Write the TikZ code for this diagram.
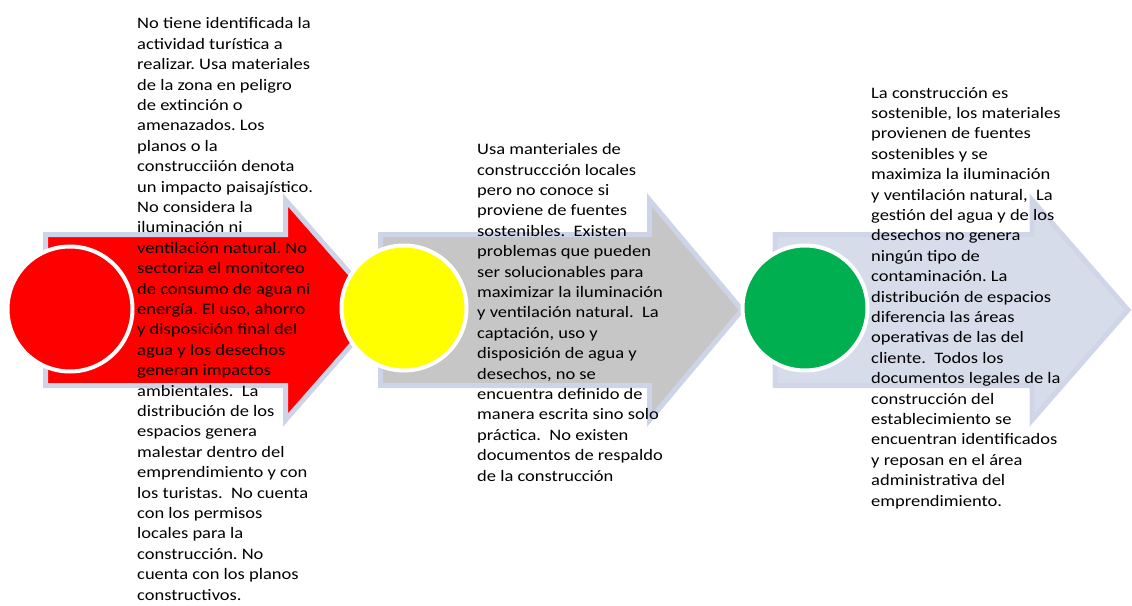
\documentclass[tikz,border=0pt]{standalone}
\usepackage{fontspec}
\setmainfont{Carlito}[FakeStretch=1.155]
\frenchspacing
\definecolor{arrowrim}{RGB}{205,212,232}
\definecolor{arrowred}{RGB}{255,0,0}
\definecolor{arrowgray}{RGB}{198,198,198}
\definecolor{arrowblue}{RGB}{214,220,234}
\definecolor{arrowbluerim}{RGB}{208,214,231}
\definecolor{dotred}{RGB}{255,0,0}
\definecolor{dotyellow}{RGB}{255,255,0}
\definecolor{dotgreen}{RGB}{0,176,80}
\tikzset{
  bigarrow/.style={draw=arrowrim, line width=5pt, line join=miter},
  dot/.style={circle, draw=white, line width=4pt, minimum size=125pt, inner sep=0pt},
  desc/.style={anchor=base west, align=left, inner sep=0pt, text=black,
    font=\fontsize{16}{20.4}\selectfont\frenchspacing},
}
\begin{document}
\begin{tikzpicture}[x=1pt,y=-1pt]
\useasboundingbox (0,0) rectangle (1132,605);
% arrows
\path[bigarrow, fill=arrowred] (45.5,234.5) -- (285.5,234.5) -- (285.5,200) -- (382,310) -- (285.5,420) -- (285.5,385.5) -- (45.5,385.5) -- cycle;
\path[bigarrow, fill=arrowgray] (380.5,234.5) -- (649.5,234.5) -- (649.5,200) -- (742,310) -- (649.5,420) -- (649.5,385.5) -- (380.5,385.5) -- cycle;
\path[bigarrow, draw=arrowbluerim, fill=arrowblue] (775,234.5) -- (1032,234.5) -- (1032,200) -- (1128,310) -- (1032,420) -- (1032,385.5) -- (775,385.5) -- cycle;
% circles
\node[dot, fill=dotred] (c1) at (70,309) {};
\node[dot, fill=dotyellow] (c2) at (404,308) {};
\node[dot, fill=dotgreen] (c3) at (805,308) {};
% texts (anchored at the baseline of the last line)
\node[desc] (t1) at (137,600) {No tiene identificada la\\
actividad turística a\\
realizar. Usa materiales\\
de la zona en peligro\\
de extinción o\\
amenazados. Los\\
planos o la\\
construcciión denota\\
un impacto paisajístico.\\
No considera la\\
iluminación ni\\
ventilación natural. No\\
sectoriza el monitoreo\\
de consumo de agua ni\\
energía. El uso, ahorro\\
y disposición final del\\
agua y los desechos\\
generan impactos\\
ambientales.\ \ La\\
distribución de los\\
espacios genera\\
malestar dentro del\\
emprendimiento y con\\
los turistas.\ \ No cuenta\\
con los permisos\\
locales para la\\
construcción. No\\
cuenta con los planos\\
constructivos.};
\node[desc] (t2) at (477,481) {Usa manteriales de\\
construccción locales\\
pero no conoce si\\
proviene de fuentes\\
sostenibles.\ \ Existen\\
problemas que pueden\\
ser solucionables para\\
maximizar la iluminación\\
y ventilación natural.\ \ La\\
captación, uso y\\
disposición de agua y\\
desechos, no se\\
encuentra definido de\\
manera escrita sino solo\\
práctica.\ \ No existen\\
documentos de respaldo\\
de la construcción};
\node[desc] (t3) at (871,506) {La construcción es\\
sostenible, los materiales\\
provienen de fuentes\\
sostenibles y se\\
maximiza la iluminación\\
y ventilación natural,\ \ La\\
gestión del agua y de los\\
desechos no genera\\
ningún tipo de\\
contaminación. La\\
distribución de espacios\\
diferencia las áreas\\
operativas de las del\\
cliente.\ \ Todos los\\
documentos legales de la\\
construcción del\\
establecimiento se\\
encuentran identificados\\
y reposan en el área\\
administrativa del\\
emprendimiento.};
\end{tikzpicture}
\end{document}
